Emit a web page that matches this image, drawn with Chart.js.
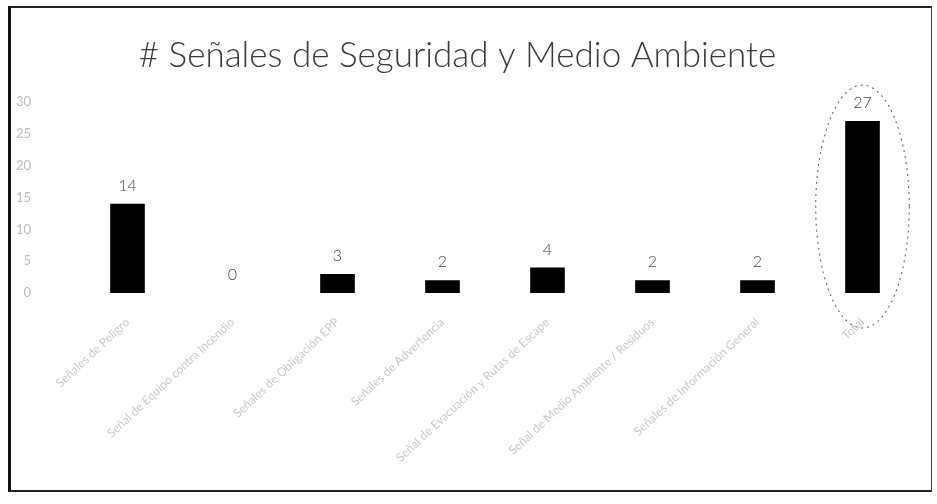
<!DOCTYPE html>
<html>
<head>
<meta charset="utf-8">
<script src="https://cdn.jsdelivr.net/npm/chart.js@4"></script>
<style>
  html, body { margin: 0; padding: 0; background: #fff; }
  #wrap { position: relative; width: 937px; height: 504px; }
  #frame {
    position: absolute; left: 8px; top: 6px; width: 920px; height: 482px;
    border-top: 2px solid #222; border-right: 1px solid #444;
    border-bottom: 2px solid #222; border-left: 3px solid #111;
    pointer-events: none;
  }
  canvas { position: absolute; left: 0; top: 0; }
</style>
</head>
<body>
<div id="wrap">
  <canvas id="chart" width="937" height="504"></canvas>
  <div id="frame"></div>
</div>
<script>
const TITLE = "# Señales de Seguridad y Medio Ambiente";

const categories = [
  "Señales de Peligro",
  "Señal de Equipo contra Incendio",
  "Señales de Obligación EPP",
  "Señales de Advertencia",
  "Señal de Evacuación y Rutas de Escape",
  "Señal de Medio Ambiente / Residuos",
  "Señales de Información General",
  "Total"
];
const counts = [14, 0, 3, 2, 4, 2, 2, 27];
const yTicks = [0, 5, 10, 15, 20, 25, 30];
const highlightIndex = 7;

const FONT = "Lato, 'Open Sans', sans-serif";

// numbers above every bar
const valueLabels = {
  id: "valueLabels",
  afterDatasetsDraw(chart) {
    const ctx = chart.ctx;
    const meta = chart.getDatasetMeta(0);
    ctx.save();
    ctx.fillStyle = "#444";
    ctx.font = "300 16px " + FONT;
    ctx.textAlign = "center";
    ctx.textBaseline = "bottom";
    meta.data.forEach((bar, i) => {
      ctx.fillText(String(counts[i]), bar.x, bar.y - 10);
    });
    ctx.restore();
  }
};

// dashed oval around the highlighted bar
const oval = {
  id: "oval",
  afterDatasetsDraw(chart) {
    const bar = chart.getDatasetMeta(0).data[highlightIndex];
    if (!bar) return;
    const ctx = chart.ctx;
    const top = bar.y - 36;
    const bottom = bar.base + 35;
    ctx.save();
    ctx.strokeStyle = "#666";
    ctx.lineWidth = 1.1;
    ctx.setLineDash([2, 4]);
    ctx.beginPath();
    ctx.ellipse(bar.x, (top + bottom) / 2, bar.width * 1.35, (bottom - top) / 2, 0, 0, Math.PI * 2);
    ctx.stroke();
    ctx.restore();
  }
};

new Chart(document.getElementById("chart"), {
  type: "bar",
  data: {
    labels: categories,
    datasets: [{
      data: counts,
      backgroundColor: "#000",
      borderWidth: 0,
      barPercentage: 0.33,
      categoryPercentage: 1
    }]
  },
  options: {
    responsive: false,
    animation: false,
    layout: { padding: { top: 35, left: 0, right: 22, bottom: 11 } },
    plugins: {
      legend: { display: false },
      tooltip: { enabled: false },
      title: {
        display: true,
        text: TITLE,
        color: "#3a3a3a",
        font: { family: FONT, size: 35, weight: 300 },
        padding: { top: 0, bottom: 25 }
      }
    },
    scales: {
      x: {
        grid: { display: false, drawTicks: false },
        border: { display: false },
        afterFit(scale) {
          scale.paddingLeft = 0;
          scale.paddingRight = 0;
          scale.height = 200;
        },
        ticks: {
          autoSkip: false,
          minRotation: 43,
          maxRotation: 43,
          padding: 22,
          color: "#c8c8c8",
          font: { family: FONT, size: 12 }
        }
      },
      y: {
        min: 0,
        max: 30,
        afterBuildTicks(axis) { axis.ticks = yTicks.map(v => ({ value: v })); },
        afterFit(scale) { scale.width = 75; },
        grid: { display: false, drawTicks: false },
        border: { display: false },
        ticks: {
          padding: 44,
          color: "#bcbcbc",
          font: { family: FONT, size: 13 }
        }
      }
    }
  },
  plugins: [valueLabels, oval]
});
</script>
</body>
</html>
